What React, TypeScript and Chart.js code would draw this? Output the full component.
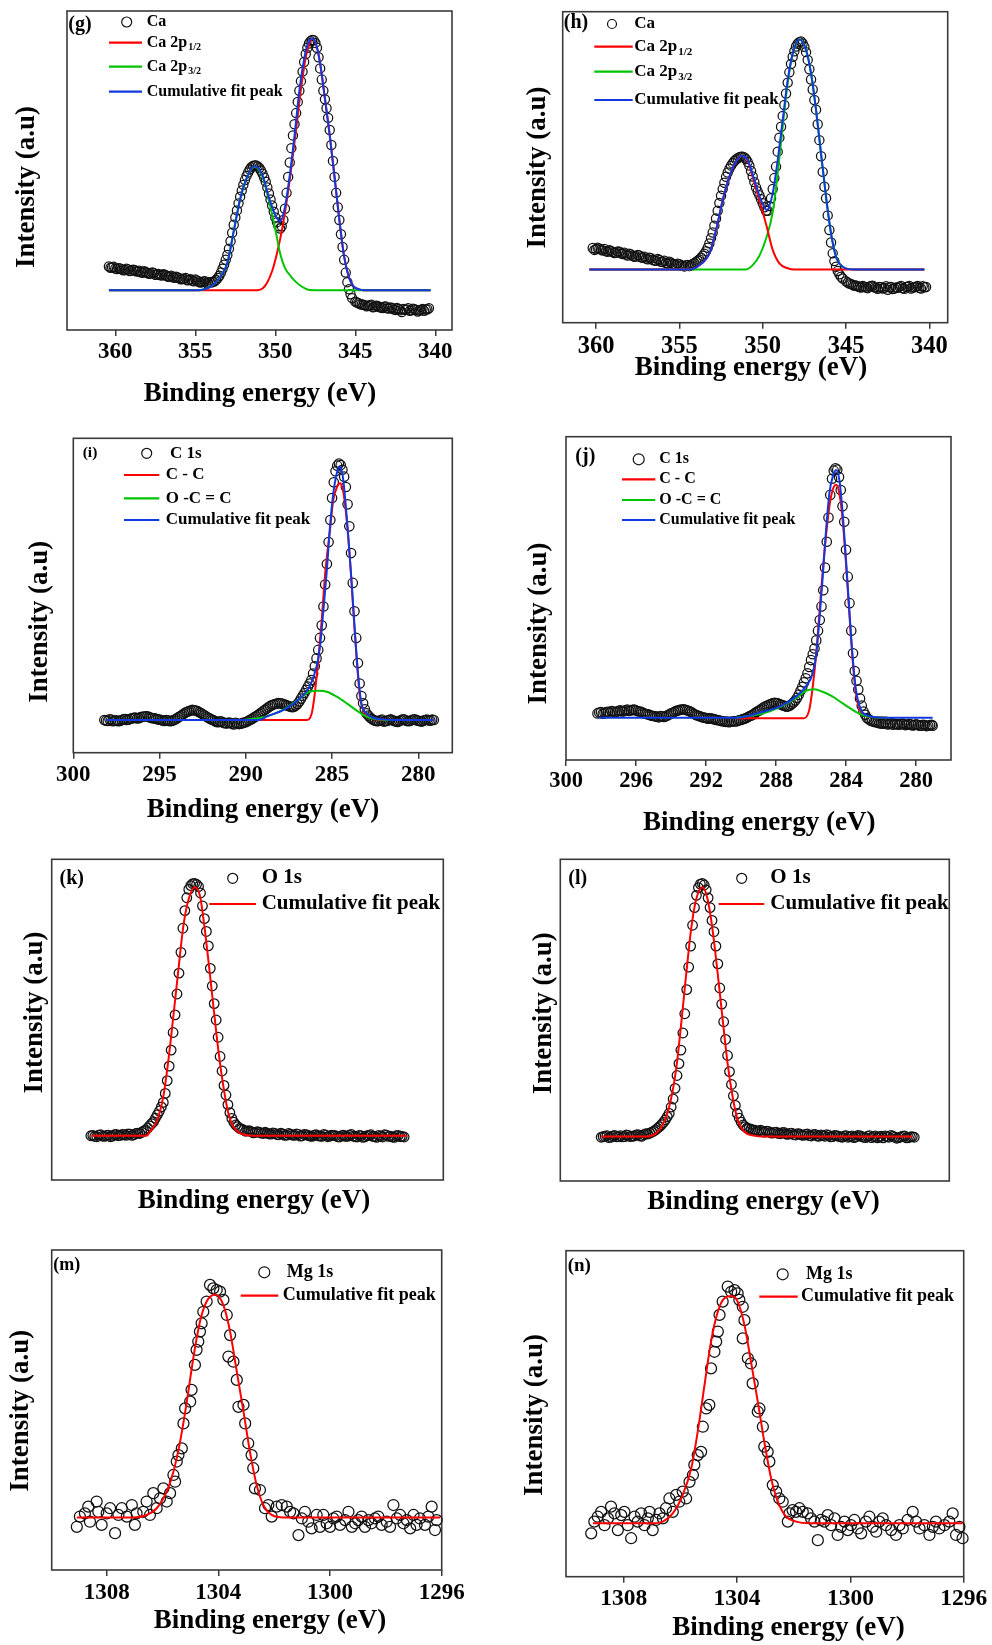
import React, { useEffect, useRef } from "react";
import { Chart, registerables } from "chart.js";
Chart.register(...registerables);

const FONT = "'Liberation Serif', 'Times New Roman', serif";
const RED = "#ff0000";
const GREEN = "#00c400";
const BLUE = "#1238e0";

type Pt = [number, number];

// ---------- tick labels ----------
const gTicks = [360, 355, 350, 345, 340];
const hTicks = [360, 355, 350, 345, 340];
const iTicks = [300, 295, 290, 285, 280];
const jTicks = [300, 296, 292, 288, 284, 280];
const mTicks = [1308, 1304, 1300, 1296];
const nTicks = [1308, 1304, 1300, 1296];

// ---------- (g) Ca ----------
const gData: Pt[] = [
  [360.4,19.9],[360.2,19.6],[360.0,19.3],[359.8,19.4],[359.6,19.0],[359.4,18.8],[359.2,19.0],[359.0,18.6],[358.8,18.8],[358.6,18.3],
  [358.4,18.1],[358.2,18.4],[358.0,17.9],[357.8,17.7],[357.6,17.9],[357.4,17.4],[357.2,17.2],[357.0,17.5],[356.8,17.0],[356.6,16.8],
  [356.4,16.5],[356.2,16.7],[356.0,16.2],[355.8,16.0],[355.6,16.3],[355.4,15.7],[355.2,15.5],[355.0,15.8],[354.8,15.2],[354.6,15.0],
  [354.4,15.3],[354.2,14.8],[354.0,14.9],[353.8,15.3],[353.6,16.3],
  [353.4,18.0],[353.3,19.2],[353.2,20.5],[353.1,22.0],[353.0,23.5],[352.9,25.5],[352.8,27.8],[352.7,30.5],[352.6,33.0],[352.5,35.3],
  [352.4,37.5],[352.3,39.7],[352.2,41.8],[352.1,43.7],[352.0,45.5],[351.9,47.0],[351.8,48.3],[351.7,49.4],[351.6,50.3],[351.5,51.0],
  [351.4,51.4],[351.3,51.6],[351.2,51.6],[351.1,51.3],[351.0,50.8],[350.9,50.0],[350.8,49.0],[350.7,47.8],[350.6,46.5],[350.5,44.7],
  [350.4,42.8],[350.3,40.9],[350.2,39.0],[350.1,37.1],[350.0,35.3],[349.9,33.8],[349.8,32.5],[349.7,31.8],[349.6,32.5],[349.5,34.5],
  [349.4,38.0],[349.3,43.0],[349.2,48.0],[349.1,52.5],[349.0,57.0],[348.9,61.0],[348.8,64.5],[348.7,68.0],[348.6,71.5],[348.5,75.0],
  [348.4,78.0],[348.3,81.0],[348.2,84.0],[348.1,86.5],[348.0,88.5],[347.9,89.8],[347.8,90.5],[347.7,90.9],[347.6,90.8],[347.5,90.0],
  [347.4,88.5],[347.3,85.5],[347.2,82.0],[347.1,78.5],[347.0,75.0],[346.9,72.3],[346.8,69.5],[346.7,66.5],[346.6,62.7],[346.5,58.0],
  [346.4,53.0],[346.3,48.0],[346.2,43.0],[346.1,38.5],[346.0,34.5],[345.9,30.0],[345.8,26.0],[345.7,22.0],[345.6,18.0],[345.5,15.0],
  [345.4,12.8],[345.3,11.2],[345.2,10.0],
  [345.0,8.9],[344.8,8.4],[344.6,8.0],[344.4,7.8],[344.2,7.6],[344.0,7.9],[343.8,7.3],[343.6,7.5],[343.4,7.0],[343.2,7.3],
  [343.0,6.8],[342.8,7.1],[342.6,6.5],[342.4,6.9],[342.2,6.2],[342.0,6.6],[341.8,6.4],[341.6,6.0],[341.4,6.7],[341.2,6.3],
  [341.0,6.1],[340.8,6.6],[340.6,6.4],[340.4,6.8],
  [360.3,19.5],[360.1,19.8],[359.9,19.1],[359.7,19.3],[359.5,18.7],[359.3,19.2],[359.1,18.5],[358.9,18.9],[358.7,18.4],[358.5,18.6],
  [358.3,17.9],[358.1,18.2],[357.9,17.6],[357.7,18.0],[357.5,17.3],[357.3,17.6],[357.1,17.1],[356.9,17.3],[356.7,16.7],[356.5,17.0],
  [356.3,16.4],[356.1,16.5],[355.9,15.9],[355.7,16.1],[355.5,15.6],[355.3,15.9],[355.1,15.3],[354.9,15.5],[354.7,14.9],[354.5,15.2],
  [354.3,14.7],[354.1,15.0],[353.9,15.1],[353.7,15.7],[353.5,17.0],
  [344.9,8.6],[344.7,8.1],[344.5,7.9],[344.3,7.4],[344.1,7.7],[343.9,7.1],[343.7,7.6],[343.5,7.2],[343.3,6.9],[343.1,7.4],
  [342.9,6.7],[342.7,6.9],[342.5,6.3],[342.3,6.6],[342.1,5.6],[341.9,6.3],[341.7,6.8],[341.5,6.2],[341.3,6.5],[341.1,5.8],
  [340.9,6.3],[340.7,6.0],[340.5,6.5],
];
const gBlue: Pt[] = [
  [360.4,12.5],[354.8,12.5],[354.3,13.0],[353.85,14.3],[353.4,17],[353.0,21],[352.6,31],[352.2,41],[351.8,47.5],[351.3,51.3],
  [350.8,48.5],[350.4,41.5],[350.0,36],[349.7,34],[349.4,38.5],[349.1,48.5],[348.8,61],[348.5,75],[348.2,85],[347.95,90],
  [347.7,91.4],[347.45,89.5],[347.2,83.5],[346.9,72.5],[346.6,61],[346.3,48],[346.0,34.5],[345.7,23],[345.4,16.5],[345.1,13.6],
  [344.8,12.8],[344.5,12.5],[340.3,12.5],
];
const gGreen: Pt[] = [
  [360.4,12.5],[354.8,12.5],[354.3,13.0],[353.85,14.3],[353.4,17],[353.0,21],[352.6,31],[352.2,41],[351.8,47.5],[351.3,51.2],
  [350.8,48],[350.4,40.5],[350.0,31.5],[349.7,24],[349.4,19.5],[349.06,17.0],[348.7,15],[348.4,13.8],[348.0,12.7],[347.6,12.5],
  [340.3,12.5],
];
const gRed: Pt[] = [
  [360.4,12.5],[351.1,12.5],[350.8,13.0],[350.5,15],[350.2,18.5],[349.9,24],[349.6,31],[349.3,40],[349.0,51],[348.7,63],
  [348.4,75.5],[348.1,85.5],[347.9,89.5],[347.7,91.3],[347.45,89.5],[347.2,83.5],[346.9,72.5],[346.6,61],[346.3,48],[346.0,34.5],
  [345.7,23],[345.4,16.5],[345.1,13.6],[344.8,12.8],[344.5,12.5],[340.3,12.5],
];

// ---------- (h) Ca ----------
const hData: Pt[] = [
  [360.2,24.0],[360.0,23.6],[359.8,23.8],[359.6,23.2],[359.4,23.0],[359.2,23.3],[359.0,22.7],[358.8,22.5],[358.6,22.8],[358.4,22.1],
  [358.2,21.9],[358.0,22.2],[357.8,21.5],[357.6,21.3],[357.4,21.6],[357.2,20.9],[357.0,20.6],[356.8,20.9],[356.6,20.2],[356.4,19.9],
  [356.2,20.2],[356.0,19.5],[355.8,19.2],[355.6,19.6],[355.4,18.9],[355.2,18.6],[355.0,18.8],[354.8,18.3],[354.6,18.5],[354.4,18.2],
  [354.2,18.9],[354.0,19.5],[353.8,20.3],[353.6,21.5],
  [353.4,23.0],[353.3,24.1],[353.2,25.5],[353.1,27.2],[353.0,29.0],[352.9,31.2],[352.8,33.5],[352.7,36.0],[352.6,38.5],[352.5,40.8],
  [352.4,43.0],[352.3,45.0],[352.2,46.9],[352.1,48.3],[352.0,49.5],[351.9,50.5],[351.8,51.3],[351.7,52.0],[351.6,52.5],[351.5,52.9],
  [351.4,53.2],[351.3,53.4],[351.2,53.4],[351.1,53.1],[351.0,52.6],[350.9,51.7],[350.8,50.5],[350.7,48.8],[350.6,47.0],[350.5,45.2],
  [350.4,43.5],[350.3,42.2],[350.2,41.0],[350.1,39.7],[350.0,38.4],[349.9,37.1],[349.8,36.0],[349.7,36.0],[349.6,37.5],[349.5,40.0],
  [349.4,43.0],[349.3,46.5],[349.2,50.2],[349.1,55.0],[349.0,59.5],[348.9,63.0],[348.8,66.5],[348.7,70.0],[348.6,73.7],[348.5,77.2],
  [348.4,80.5],[348.3,83.2],[348.2,85.5],[348.1,87.3],[348.0,88.8],[347.9,89.7],[347.8,90.2],[347.7,90.4],[347.6,89.8],[347.5,88.7],
  [347.4,87.0],[347.3,84.5],[347.2,81.5],[347.1,78.2],[347.0,75.0],[346.9,71.6],[346.8,68.5],[346.7,63.8],[346.6,58.7],[346.5,53.5],
  [346.4,48.5],[346.3,43.7],[346.2,40.0],[346.1,34.5],[346.0,29.8],[345.9,25.8],[345.8,22.3],[345.7,19.8],[345.6,18.0],[345.5,16.6],
  [345.4,15.6],[345.3,14.8],[345.2,14.2],
  [345.0,13.3],[344.8,12.6],[344.6,12.2],[344.4,12.0],[344.2,11.5],[344.0,11.8],[343.8,11.3],[343.6,11.6],[343.4,11.9],[343.2,11.2],
  [343.0,11.5],[342.8,11.0],[342.6,11.7],[342.4,11.4],[342.2,10.8],[342.0,11.3],[341.8,11.6],[341.6,11.1],[341.4,11.5],[341.2,11.8],
  [341.0,11.3],[340.8,11.6],[340.6,11.2],[340.4,11.7],[340.2,11.5],
  [360.1,23.4],[359.9,24.1],[359.7,23.5],[359.5,23.7],[359.3,22.8],[359.1,23.1],[358.9,22.4],[358.7,22.9],[358.5,22.3],[358.3,22.5],
  [358.1,21.6],[357.9,21.9],[357.7,21.2],[357.5,21.8],[357.3,21.0],[357.1,21.2],[356.9,20.4],[356.7,20.7],[356.5,20.0],[356.3,20.5],
  [356.1,19.6],[355.9,19.9],[355.7,19.0],[355.5,19.3],[355.3,18.7],[355.1,19.0],[354.9,18.4],[354.7,18.1],[354.5,18.6],[354.3,18.4],
  [354.1,19.1],[353.9,19.9],[353.7,20.9],[353.5,22.2],
  [344.9,12.9],[344.7,12.4],[344.5,11.9],[344.3,11.7],[344.1,11.3],[343.9,11.6],[343.7,11.1],[343.5,11.8],[343.3,11.4],[343.1,10.9],
  [342.9,11.4],[342.7,11.2],[342.5,10.6],[342.3,11.5],[342.1,11.0],[341.9,11.2],[341.7,11.8],[341.5,10.9],[341.3,11.6],[341.1,11.0],
  [340.9,11.4],[340.7,11.8],[340.5,11.0],[340.3,11.4],
];
const hBlue: Pt[] = [
  [360.4,17.1],[354.5,17.1],[353.8,18.5],[353.2,22.3],[352.8,29.8],[352.4,39.4],[352.0,46.9],[351.6,51.8],[351.24,53.6],[350.9,52.3],
  [350.5,45.9],[350.1,39.4],[349.76,36.2],[349.4,41.6],[349.1,52.3],[348.8,65.2],[348.5,78],[348.2,86.6],[347.8,91.1],[347.4,87.7],
  [347.1,80.2],[346.8,68.4],[346.5,54.4],[346.2,40.5],[345.9,28.7],[345.6,21.2],[345.2,18],[344.5,17.1],[340.3,17.1],
];
const hGreen: Pt[] = [
  [360.4,17.1],[351.0,17.1],[350.6,18.5],[350.2,21.5],[349.8,27],[349.4,35.5],[349.1,48],[348.8,63],[348.5,77],[348.2,86.4],
  [347.8,91.1],[347.4,87.7],[347.1,80.2],[346.8,68.4],[346.5,54.4],[346.2,40.5],[345.9,28.7],[345.6,21.2],[345.2,18],[344.5,17.1],
  [340.3,17.1],
];
const hRed: Pt[] = [
  [360.4,17.1],[354.5,17.1],[353.8,18.5],[353.2,22.3],[352.8,29.8],[352.4,39.4],[352.0,46.9],[351.6,51.8],[351.24,53.6],[350.9,52],
  [350.5,45],[350.2,39.4],[349.76,30.9],[349.4,23.4],[349.0,19.1],[348.5,17.5],[348.1,17.1],[340.3,17.1],
];

// ---------- (i) C 1s ----------
const iData: Pt[] = [
  [298.2,10.4],[298.0,10.1],[297.8,10.5],[297.6,10.2],[297.4,10.0],[297.2,10.4],[297.0,10.7],[296.8,10.5],[296.6,10.9],[296.4,11.2],
  [296.2,11.0],[296.0,11.4],[295.8,11.6],[295.6,11.3],[295.4,11.0],[295.2,10.8],[295.0,10.5],[294.8,10.2],[294.6,10.4],[294.4,10.0],
  [294.2,10.3],[294.0,10.9],[293.8,11.6],[293.6,12.4],[293.4,13.0],[293.2,13.4],[293.0,13.5],[292.8,13.2],[292.6,12.6],[292.4,11.9],
  [292.2,11.2],[292.0,10.6],[291.8,10.1],[291.6,9.7],[291.4,9.9],[291.2,9.4],[291.0,9.6],[290.8,9.2],[290.6,9.5],[290.4,9.1],
  [290.2,9.4],[290.0,9.7],[289.8,10.3],[289.6,10.9],[289.4,11.6],[289.2,12.4],[289.0,13.2],[288.8,14.0],[288.6,14.8],[288.4,15.3],
  [288.2,15.6],[288.0,15.7],[287.8,15.4],[287.6,15.0],[287.4,14.6],[287.2,14.6],[287.0,15.5],[286.8,17.2],[286.6,19.0],[286.4,21.0],
  [286.2,23.1],[286.1,25.2],[286.0,27.5],[285.9,30.0],[285.8,32.7],[285.7,36.5],[285.6,40.5],[285.5,46.5],[285.4,53.5],[285.3,60.0],
  [285.2,67.0],[285.1,74.0],[285.0,81.0],[284.9,86.0],[284.8,89.5],[284.7,91.3],[284.6,92.0],[284.5,91.5],[284.4,90.0],[284.3,87.8],
  [284.2,84.5],[284.1,79.0],[284.0,72.0],[283.9,63.5],[283.8,54.0],[283.7,45.0],[283.6,36.5],[283.5,28.5],[283.4,22.0],[283.3,18.0],
  [283.2,15.7],[283.1,13.8],[283.0,12.5],[282.8,11.2],[282.6,10.4],[282.4,10.0],[282.2,10.3],[282.0,9.9],[281.8,10.2],[281.6,10.6],
  [281.4,10.1],[281.2,9.8],[281.0,10.3],[280.8,10.5],[280.6,10.0],[280.4,10.3],[280.2,10.6],[280.0,10.2],[279.8,9.9],[279.6,10.4],
  [279.4,10.3],[279.2,10.5],
  [298.1,10.2],[297.9,10.6],[297.7,10.0],[297.5,10.3],[297.3,10.1],[297.1,10.6],[296.9,10.4],[296.7,10.8],[296.5,11.1],[296.3,10.9],
  [296.1,11.3],[295.9,11.5],[295.7,11.6],[295.5,11.1],[295.3,10.9],[295.1,10.6],[294.9,10.4],[294.7,10.1],[294.5,10.3],[294.3,10.1],
  [294.1,10.6],[293.9,11.3],[293.7,12.0],[293.5,12.8],[293.3,13.2],[293.1,13.6],[292.9,13.4],[292.7,12.9],[292.5,12.2],[292.3,11.5],
  [292.1,10.9],[291.9,10.4],[291.7,9.8],[291.5,10.0],[291.3,9.5],[291.1,9.3],[290.9,9.5],[290.7,9.0],[290.5,9.3],[290.3,9.2],
  [290.1,9.6],[289.9,10.0],[289.7,10.6],[289.5,11.3],[289.3,12.0],[289.1,12.8],[288.9,13.6],[288.7,14.4],[288.5,15.1],[288.3,15.5],
  [288.1,15.8],[287.9,15.6],[287.7,15.2],[287.5,14.8],[287.3,14.5],[287.1,15.0],[286.9,16.3],[286.7,18.1],[286.5,20.0],[286.3,22.0],
  [282.9,11.8],[282.7,10.8],[282.5,10.2],[282.3,10.1],[282.1,10.5],[281.9,10.0],[281.7,10.4],[281.5,10.3],[281.3,9.9],[281.1,10.1],
  [280.9,10.6],[280.7,10.2],[280.5,10.1],[280.3,10.5],[280.1,10.3],[279.9,10.0],[279.7,10.2],[279.5,10.5],[279.3,10.2],[279.1,10.4],
];
const iBlue: Pt[] = [
  [298.1,10.4],[289.2,10.4],[288.8,11.5],[287.8,13.6],[286.86,17.3],[286.3,21],[285.9,27.4],[285.7,33.7],[285.5,45.4],[285.3,58.1],
  [285.12,71.9],[284.93,82.5],[284.73,88.8],[284.58,91],[284.39,88.3],[284.25,81.4],[284.06,68.7],[283.86,53.9],[283.67,38],[283.48,24.2],
  [283.3,15.7],[283.0,12.5],[282.6,11.1],[282.0,10.6],[281.5,10.4],[279.1,10.4],
];
const iRed: Pt[] = [
  [290.1,10.4],[286.5,10.4],[286.18,12.5],[286.0,18.9],[285.8,29.5],[285.6,42.2],[285.4,57],[285.12,70.8],[284.93,80.4],[284.7,84.6],
  [284.54,85.7],[284.35,83],[284.15,74],[283.96,61.3],[283.77,45.4],[283.57,29.5],[283.38,17.8],[283.1,12.5],[282.6,10.9],[282.2,10.4],
  [281.6,10.4],
];
const iGreen: Pt[] = [
  [290.1,10.4],[288.8,11.5],[287.8,13.8],[286.86,17.3],[286.3,19.4],[285.8,19.7],[285.3,19.4],[284.73,17.8],[284.15,15.7],[283.57,13.4],
  [283.0,11.5],[282.4,10.6],[281.6,10.4],
];

// ---------- (j) C 1s ----------
const jData: Pt[] = [
  [298.2,14.4],[298.0,14.8],[297.8,14.5],[297.6,14.9],[297.4,15.1],[297.2,14.8],[297.0,15.2],[296.8,15.0],[296.6,15.4],[296.4,15.2],
  [296.2,15.5],[296.0,15.3],[295.8,15.0],[295.6,14.6],[295.4,14.2],[295.2,13.9],[295.0,13.6],[294.8,13.4],[294.6,13.6],[294.4,13.3],
  [294.2,13.8],[294.0,14.4],[293.8,14.9],[293.6,15.3],[293.4,15.6],[293.2,15.6],[293.0,15.2],[292.8,14.7],[292.6,14.0],[292.4,13.6],
  [292.2,13.2],[292.0,13.0],[291.8,12.9],[291.6,12.7],[291.4,12.4],[291.2,12.2],[291.0,12.0],[290.8,11.9],[290.6,11.8],[290.4,12.0],
  [290.2,12.1],[290.0,12.4],[289.8,12.8],[289.6,13.3],[289.4,13.8],[289.2,14.5],[289.0,15.2],[288.8,15.9],[288.6,16.6],[288.4,17.1],
  [288.2,17.5],[288.0,17.6],[287.8,17.3],[287.6,16.9],[287.4,16.5],[287.2,16.9],[287.0,17.8],[286.8,19.2],[286.6,21.4],[286.4,24.0],
  [286.2,26.8],[286.1,28.8],[286.0,30.9],[285.9,32.7],[285.8,34.5],[285.7,37.0],[285.6,40.0],[285.5,43.3],[285.4,47.5],[285.3,52.5],
  [285.2,59.5],[285.1,67.5],[285.0,75.0],[284.9,82.0],[284.8,87.0],[284.7,89.5],[284.6,90.2],[284.5,89.8],[284.4,87.5],[284.3,83.5],
  [284.2,78.5],[284.1,73.7],[284.0,65.0],[283.9,56.7],[283.8,48.5],[283.7,40.0],[283.6,33.0],[283.5,27.5],[283.4,24.5],[283.3,21.8],
  [283.2,19.0],[283.1,16.8],[283.0,15.0],[282.8,13.0],[282.6,12.2],[282.4,11.8],[282.2,11.6],[282.0,11.3],[281.8,11.5],[281.6,11.0],
  [281.4,11.4],[281.2,11.2],[281.0,10.9],[280.8,11.3],[280.6,10.8],[280.4,11.1],[280.2,10.7],[280.0,11.0],[279.8,10.6],[279.6,10.9],
  [279.4,10.5],[279.2,10.8],[279.05,10.6],
  [298.1,14.7],[297.9,14.3],[297.7,14.8],[297.5,14.6],[297.3,15.0],[297.1,14.9],[296.9,15.4],[296.7,15.1],[296.5,15.6],[296.3,15.3],
  [296.1,15.6],[295.9,15.1],[295.7,14.9],[295.5,14.3],[295.3,14.1],[295.1,13.7],[294.9,13.5],[294.7,13.2],[294.5,13.5],[294.3,13.5],
  [294.1,14.1],[293.9,14.6],[293.7,15.2],[293.5,15.5],[293.3,15.7],[293.1,15.4],[292.9,15.0],[292.7,14.3],[292.5,13.8],[292.3,13.4],
  [292.1,13.1],[291.9,12.8],[291.7,12.8],[291.5,12.5],[291.3,12.3],[291.1,12.0],[290.9,11.8],[290.7,11.7],[290.5,11.9],[290.3,11.9],
  [290.1,12.3],[289.9,12.6],[289.7,13.0],[289.5,13.6],[289.3,14.1],[289.1,14.9],[288.9,15.5],[288.7,16.3],[288.5,16.8],[288.3,17.3],
  [288.1,17.7],[287.9,17.5],[287.7,17.1],[287.5,16.7],[287.3,16.6],[287.1,17.3],[286.9,18.4],[286.7,20.2],[286.5,22.6],[286.3,25.3],
  [282.9,14.0],[282.7,12.6],[282.5,12.0],[282.3,11.7],[282.1,11.4],[281.9,11.2],[281.7,11.3],[281.5,11.2],[281.3,10.9],[281.1,11.1],
  [280.9,11.0],[280.7,11.1],[280.5,10.9],[280.3,11.0],[280.1,10.8],[279.9,10.9],[279.7,10.6],[279.5,10.8],[279.3,10.6],[279.1,10.9],
];
const jBlue: Pt[] = [
  [298.1,13.1],[290.3,13.1],[288.76,14.9],[287.8,16.5],[286.86,19.6],[286.3,22.7],[285.9,26.8],[285.7,33],[285.52,43.3],[285.33,56.7],
  [285.14,71.1],[284.95,82.5],[284.76,87.6],[284.57,89.7],[284.38,86.6],[284.19,76.3],[284.0,61.9],[283.81,46.4],[283.62,32],[283.43,21.6],
  [283.14,15.5],[282.76,13.7],[282.29,13.2],[281.8,13.1],[279.05,13.1],
];
const jRed: Pt[] = [
  [290.3,12.9],[286.4,12.9],[286.1,15.5],[285.9,22.7],[285.7,33],[285.52,45.4],[285.24,63.9],[284.95,78.4],[284.76,83.5],[284.57,85.1],
  [284.38,82.5],[284.19,74.2],[284.0,60.8],[283.81,45.4],[283.62,30.9],[283.43,20.6],[283.14,14.9],[282.67,13.4],[281.62,13.1],
];
const jGreen: Pt[] = [
  [290.3,13.1],[288.76,14.4],[287.8,16.3],[286.86,19.1],[286.3,21.4],[285.8,21.9],[285.33,21.1],[284.76,19.6],[284.19,17.5],[283.62,15.5],
  [283.05,13.9],[282.48,13.2],[281.62,13.1],
];

// ---------- (k) O 1s ----------
const kData: Pt[] = [
  [538.0,13.8],[537.8,13.6],[537.6,14.0],[537.4,13.7],[537.2,13.9],[537.0,13.5],[536.8,14.1],[536.6,13.8],[536.4,14.2],[536.2,13.9],
  [536.0,14.3],[535.8,14.1],[535.6,14.6],[535.4,14.9],[535.3,15.3],[535.2,15.6],[535.1,16.2],[535.0,16.9],[534.9,17.6],[534.8,18.2],
  [534.7,19.3],[534.6,20.4],[534.5,21.5],[534.4,22.8],[534.3,24.2],[534.2,27.0],[534.1,31.0],[534.0,35.5],[533.9,40.5],[533.8,46.0],
  [533.7,51.5],[533.6,58.0],[533.5,64.5],[533.4,71.0],[533.3,78.5],[533.2,84.0],[533.1,88.0],[533.0,90.6],[532.9,91.8],[532.8,92.4],
  [532.7,92.5],[532.6,92.2],[532.5,91.5],[532.4,89.5],[532.3,85.5],[532.2,81.5],[532.1,77.5],[532.0,73.0],[531.9,66.0],[531.8,60.5],
  [531.7,55.0],[531.6,49.9],[531.5,44.5],[531.4,38.5],[531.3,34.0],[531.2,29.5],[531.1,26.5],[531.0,23.5],[530.9,21.0],[530.8,19.2],
  [530.7,18.0],[530.6,17.2],[530.5,16.6],[530.4,16.1],[530.2,15.6],[530.0,15.3],[529.8,15.0],[529.6,14.8],[529.4,14.9],[529.2,14.5],
  [529.0,14.6],[528.8,14.3],[528.6,14.5],[528.4,14.1],[528.2,14.4],[528.0,14.0],[527.8,14.3],[527.6,13.9],[527.4,14.2],[527.2,13.8],
  [527.0,14.1],[526.8,13.7],[526.6,14.0],[526.4,13.8],[526.2,13.6],[526.0,14.0],[525.8,13.7],[525.6,13.9],[525.4,13.5],[525.2,13.8],
  [525.0,13.6],[524.8,14.0],[524.6,13.7],[524.4,13.4],[524.2,13.8],[524.0,13.5],[523.8,13.9],[523.6,13.6],[523.4,13.3],[523.2,13.7],
  [523.0,14.1],[522.8,13.6],[522.6,13.4],[522.4,13.8],[522.2,13.5],[522.0,13.4],
  [537.9,13.9],[537.7,13.5],[537.5,14.1],[537.3,13.6],[537.1,14.0],[536.9,13.7],[536.7,14.2],[536.5,13.9],[536.3,14.1],[536.1,14.4],
  [535.9,13.9],[535.7,14.5],[535.5,14.5],
  [530.3,15.9],[530.1,15.2],[529.9,15.4],[529.7,14.7],[529.5,15.1],[529.3,14.6],[529.1,14.9],[528.9,14.4],[528.7,14.7],[528.5,14.2],
  [528.3,14.6],[528.1,13.9],[527.9,14.5],[527.7,14.0],[527.5,14.4],[527.3,13.7],[527.1,14.2],[526.9,13.9],[526.7,13.6],[526.5,14.1],
  [526.3,13.7],[526.1,14.2],[525.9,13.5],[525.7,14.0],[525.5,13.8],[525.3,13.4],[525.1,14.0],[524.9,13.6],[524.7,14.2],[524.5,13.5],
  [524.3,13.9],[524.1,13.3],[523.9,13.8],[523.7,14.1],[523.5,13.5],[523.3,13.9],[523.1,13.4],[522.9,14.0],[522.7,13.7],[522.5,13.3],
  [522.3,13.9],[522.1,13.6],
];
const kFit: Pt[] = [
  [537.96,13.8],[535.15,13.8],[534.98,15.1],[534.64,18.2],[534.3,26],[534.04,37.4],[533.79,50.9],[533.53,65.5],[533.28,79],[533.02,87.3],
  [532.68,91.3],[532.42,88.4],[532.22,80],[532.0,68.6],[531.74,54.1],[531.49,40.5],[531.23,29.1],[530.98,20.8],[530.72,16.6],[530.38,14.6],
  [529.7,13.8],[521.87,13.8],
];

// ---------- (l) O 1s ----------
const lData: Pt[] = [
  [537.9,13.6],[537.7,13.9],[537.5,13.5],[537.3,14.0],[537.1,13.7],[536.9,14.1],[536.7,13.8],[536.5,14.2],[536.3,13.9],[536.1,14.3],
  [535.9,14.0],[535.7,14.4],[535.5,14.6],[535.3,15.2],[535.2,15.5],[535.1,15.9],[535.0,16.4],[534.9,16.9],[534.8,17.5],[534.7,18.2],
  [534.6,19.0],[534.5,20.0],[534.4,21.0],[534.3,23.0],[534.2,25.5],[534.1,28.8],[534.0,32.8],[533.9,36.5],[533.8,40.7],[533.7,46.0],
  [533.6,52.0],[533.5,59.5],[533.4,66.5],[533.3,73.0],[533.2,79.5],[533.1,85.0],[533.0,88.8],[532.9,91.2],[532.8,92.3],[532.7,92.5],
  [532.6,92.0],[532.5,90.5],[532.4,88.0],[532.3,85.0],[532.2,81.0],[532.1,77.5],[532.0,73.0],[531.9,67.5],[531.8,60.0],[531.7,55.0],
  [531.6,49.5],[531.5,44.0],[531.4,39.0],[531.3,34.0],[531.2,30.0],[531.1,26.5],[531.0,23.5],[530.9,21.0],[530.8,19.5],[530.7,18.3],
  [530.6,17.4],[530.5,16.9],[530.4,16.5],[530.2,16.1],[530.0,15.8],[529.8,15.6],[529.6,15.3],[529.4,15.5],[529.2,15.0],[529.0,15.1],
  [528.8,14.8],[528.6,15.0],[528.4,14.6],[528.2,14.8],[528.0,14.4],[527.8,14.7],[527.6,14.3],[527.4,14.5],[527.2,14.1],[527.0,14.4],
  [526.8,14.0],[526.6,14.3],[526.4,13.9],[526.2,14.2],[526.0,13.8],[525.8,14.1],[525.6,13.7],[525.4,14.0],[525.2,13.6],[525.0,14.0],
  [524.8,13.7],[524.6,14.1],[524.4,13.6],[524.2,13.9],[524.0,13.5],[523.8,14.0],[523.6,13.7],[523.4,13.4],[523.2,13.8],[523.0,14.2],
  [522.8,13.6],[522.6,13.5],[522.4,13.9],[522.2,13.4],[522.0,13.7],[521.8,13.6],
  [537.8,13.8],[537.6,14.1],[537.4,13.6],[537.2,14.2],[537.0,13.8],[536.8,13.7],[536.6,14.3],[536.4,13.8],[536.2,14.0],[536.0,14.4],
  [535.8,13.9],[535.6,14.7],[535.4,14.9],
  [530.3,16.3],[530.1,15.9],[529.9,15.5],[529.7,15.8],[529.5,15.2],[529.3,15.4],[529.1,14.9],[528.9,15.2],[528.7,14.7],[528.5,15.1],
  [528.3,14.5],[528.1,14.9],[527.9,14.3],[527.7,14.6],[527.5,14.2],[527.3,14.6],[527.1,14.0],[526.9,14.5],[526.7,13.9],[526.5,14.1],
  [526.3,14.4],[526.1,13.7],[525.9,14.2],[525.7,13.9],[525.5,13.6],[525.3,14.1],[525.1,13.8],[524.9,13.5],[524.7,14.2],[524.5,13.8],
  [524.3,13.5],[524.1,14.1],[523.9,13.8],[523.7,13.4],[523.5,13.9],[523.3,14.0],[523.1,13.6],[522.9,13.9],[522.7,13.3],[522.5,13.7],
  [522.3,14.0],[522.1,13.5],[521.9,13.8],
];
const lFit: Pt[] = [
  [537.9,13.8],[535.6,13.8],[535.08,14.8],[534.74,17.4],[534.4,23.1],[534.05,34.5],[533.8,48],[533.54,63.5],[533.28,78],[533.02,87.4],
  [532.68,91.3],[532.42,87.4],[532.17,78],[531.91,64.6],[531.65,50.1],[531.4,36.6],[531.14,26.2],[530.88,19],[530.54,15.3],[530.03,14.1],
  [529.6,13.8],[521.9,13.8],
];

// ---------- (m) Mg 1s ----------
const mData: Pt[] = [
  [1309.07,13.5],[1308.96,16.7],[1308.78,17.7],[1308.66,19.8],[1308.6,15.1],[1308.36,21.4],[1308.3,18.2],[1308.18,14.1],[1308.0,17.7],[1307.88,19.3],
  [1307.7,11.5],[1307.58,17.2],[1307.46,19.3],[1307.28,16.7],[1307.1,20.3],[1306.99,14.1],[1306.93,17.7],[1306.69,18.2],[1306.57,21.4],[1306.45,17.2],
  [1306.33,24.0],[1306.21,19.3],[1306.09,22.4],[1305.97,25.5],[1305.85,21.4],[1305.73,24.0],[1305.61,29.7],[1305.55,27.6],[1305.49,33.9],[1305.43,35.9],
  [1305.31,38.0],[1305.25,45.8],[1305.19,50.5],[1305.01,52.6],[1304.96,56.3],[1304.84,64.1],[1304.78,68.8],[1304.72,71.4],[1304.66,74.5],[1304.6,77.1],
  [1304.54,80.7],[1304.42,83.9],[1304.3,89.1],[1304.18,88.0],[1304.06,87.5],[1303.94,87.0],[1303.82,84.4],[1303.7,79.7],[1303.58,73.4],[1303.64,66.7],
  [1303.46,65.1],[1303.34,59.4],[1303.28,51.0],[1303.1,51.6],[1303.04,45.8],[1302.93,39.6],[1302.81,35.9],[1302.75,31.8],[1302.69,25.5],[1302.51,25.0],
  [1302.33,19.3],[1302.21,20.3],[1302.09,16.7],[1301.91,19.8],[1301.73,20.3],[1301.55,19.8],[1301.43,18.2],[1301.31,17.7],[1301.13,10.9],[1301.01,16.1],
  [1300.9,18.2],[1300.78,15.1],[1300.66,13.0],[1300.48,17.2],[1300.36,13.5],[1300.24,17.2],[1300.12,14.6],[1300.0,13.5],[1299.88,16.1],[1299.76,16.7],
  [1299.64,14.1],[1299.46,15.6],[1299.34,18.2],[1299.22,13.5],[1299.1,14.6],[1298.99,15.6],[1298.87,16.7],[1298.75,13.5],[1298.63,15.6],[1298.51,14.6],
  [1298.39,16.1],[1298.27,16.7],[1298.15,14.1],[1297.97,15.1],[1297.85,13.5],[1297.73,20.3],[1297.61,16.1],[1297.49,17.2],[1297.37,14.6],[1297.25,15.6],
  [1297.13,13.0],[1297.01,17.2],[1296.9,14.1],[1296.78,16.1],[1296.6,14.1],[1296.48,16.7],[1296.36,19.8],[1296.24,12.5],[1296.18,15.6],
];
const mFit: Pt[] = [
  [1309.07,16.4],[1307.04,16.4],[1306.57,17.2],[1306.21,19.3],[1305.85,24.5],[1305.61,30.7],[1305.37,40.1],[1305.13,52.6],[1304.9,66.1],[1304.66,77.6],
  [1304.42,83.9],[1304.12,86.1],[1303.82,82.8],[1303.58,74.5],[1303.34,62],[1303.1,49.5],[1302.87,37],[1302.63,26.6],[1302.39,20.3],[1302.09,17.2],
  [1301.67,16.4],[1296.06,16.4],
];

// ---------- (n) Mg 1s ----------
const nData: Pt[] = [
  [1309.15,13.3],[1309.04,16.9],[1308.92,18.4],[1308.8,19.9],[1308.68,15.8],[1308.56,17.9],[1308.45,21.5],[1308.33,19.4],[1308.21,14.3],[1308.09,18.9],
  [1307.98,19.9],[1307.86,15.8],[1307.74,11.8],[1307.62,18.4],[1307.51,16.9],[1307.39,19.4],[1307.27,15.8],[1307.15,17.9],[1307.09,19.9],[1306.98,14.3],
  [1306.86,17.4],[1306.74,19.4],[1306.62,17.9],[1306.51,21.0],[1306.39,24.0],[1306.27,19.9],[1306.15,25.1],[1306.04,23.0],[1305.92,26.1],[1305.8,24.0],
  [1305.68,29.1],[1305.56,31.2],[1305.51,34.3],[1305.39,37.3],[1305.27,38.3],[1305.21,46.0],[1305.09,51.6],[1304.98,52.7],[1304.92,63.9],[1304.8,69.0],
  [1304.74,72.1],[1304.68,75.2],[1304.62,80.3],[1304.51,84.4],[1304.33,89.0],[1304.21,87.4],[1304.09,87.9],[1303.98,86.9],[1303.92,84.9],[1303.8,82.8],
  [1303.74,78.7],[1303.8,73.1],[1303.62,67.0],[1303.51,65.4],[1303.45,59.3],[1303.27,50.6],[1303.21,51.6],[1303.09,46.0],[1303.04,39.9],[1302.92,38.3],
  [1302.86,35.3],[1302.74,28.1],[1302.62,26.1],[1302.51,24.0],[1302.39,23.0],[1302.21,16.9],[1302.15,19.4],[1302.04,20.4],[1301.92,19.9],[1301.8,21.0],
  [1301.68,19.9],[1301.51,19.4],[1301.39,17.9],[1301.27,16.9],[1301.15,11.2],[1301.04,17.4],[1300.92,16.9],[1300.8,18.9],[1300.68,15.8],[1300.56,17.9],
  [1300.45,12.8],[1300.33,15.3],[1300.21,16.9],[1300.09,14.3],[1299.98,15.8],[1299.86,17.4],[1299.74,14.8],[1299.62,13.3],[1299.45,16.9],[1299.33,18.4],
  [1299.21,15.3],[1299.09,13.8],[1298.98,16.9],[1298.86,17.9],[1298.74,15.8],[1298.56,14.3],[1298.39,12.8],[1298.27,15.8],[1298.15,14.8],[1297.98,17.4],
  [1297.8,19.9],[1297.68,16.9],[1297.56,14.8],[1297.39,15.8],[1297.21,12.8],[1297.09,15.3],[1296.98,16.9],[1296.86,14.8],[1296.68,15.8],[1296.51,16.9],
  [1296.39,19.4],[1296.27,12.8],[1296.15,15.3],[1296.04,11.8],
];
const nFit: Pt[] = [
  [1309.09,16.4],[1306.98,16.4],[1306.62,16.9],[1306.27,19.4],[1305.92,25.1],[1305.62,33.2],[1305.39,44.5],[1305.15,58.8],[1304.92,72.1],[1304.68,81.3],
  [1304.45,85.4],[1304.19,86.1],[1303.98,84.4],[1303.74,77.2],[1303.51,66],[1303.27,53.7],[1303.04,41.4],[1302.8,30.2],[1302.56,23],[1302.27,18.4],
  [1301.92,16.9],[1301.45,16.4],[1296.04,16.4],
];

// ---------- panel layout ----------
type LegendLine = { color: string; x1: number; x2: number; y: number; text: string; sub?: string; tx: number };
type Panel = {
  id: string;
  box: [number, number, number, number];
  area: [number, number, number, number];
  xMin: number; xMax: number;
  ticks: number[] | null; tickSize: number; tickPad: number;
  data: Pt[]; r: number;
  fits: { pts: Pt[]; color: string }[];
  label: { text: string; x: number; y: number; size: number };
  xTitle: [number, number]; yTitle: [number, number];
  legend: { size: number; cr: number; circle: [number, number]; first: { text: string; x: number; y: number }; lines: LegendLine[] };
};

const X_TITLE = "Binding energy (eV)";
const Y_TITLE = "Intensity (a.u)";

const panels: Panel[] = [
  {
    id: "g", box: [0, 0, 496, 410], area: [67, 11, 452, 330], xMin: 338.96, xMax: 363.02,
    ticks: gTicks, tickSize: 23, tickPad: 2, data: gData, r: 4.6,
    fits: [{ pts: gBlue, color: BLUE }, { pts: gGreen, color: GREEN }, { pts: gRed, color: RED }],
    label: { text: "(g)", x: 80, y: 25, size: 20 }, xTitle: [260, 394], yTitle: [27.5, 187],
    legend: { size: 16, cr: 5, circle: [126.7, 22], first: { text: "Ca", x: 146.7, y: 21.5 }, lines: [
      { color: RED, x1: 109, x2: 142, y: 42.7, text: "Ca 2p", sub: "1/2", tx: 146.7 },
      { color: GREEN, x1: 109, x2: 142, y: 66.7, text: "Ca 2p", sub: "3/2", tx: 146.7 },
      { color: BLUE, x1: 109, x2: 142, y: 91.7, text: "Cumulative fit peak", tx: 146.7 },
    ] },
  },
  {
    id: "h", box: [496, 0, 496, 410], area: [562.7, 11.7, 947.7, 322.7], xMin: 338.9, xMax: 362,
    ticks: hTicks, tickSize: 24.5, tickPad: 3, data: hData, r: 4.6,
    fits: [{ pts: hBlue, color: BLUE }, { pts: hRed, color: RED }, { pts: hGreen, color: GREEN }],
    label: { text: "(h)", x: 576, y: 23.3, size: 20 }, xTitle: [751, 368], yTitle: [538.5, 167.5],
    legend: { size: 17, cr: 4.5, circle: [612, 24], first: { text: "Ca", x: 634.3, y: 23.5 }, lines: [
      { color: RED, x1: 594.3, x2: 632.7, y: 46.7, text: "Ca 2p", sub: "1/2", tx: 634.3 },
      { color: GREEN, x1: 594.3, x2: 632.7, y: 71.7, text: "Ca 2p", sub: "3/2", tx: 634.3 },
      { color: BLUE, x1: 594.3, x2: 632.7, y: 100, text: "Cumulative fit peak", tx: 634.3 },
    ] },
  },
  {
    id: "i", box: [0, 410, 496, 430], area: [73.3, 438.3, 452.3, 752.7], xMin: 278.03, xMax: 300,
    ticks: iTicks, tickSize: 23, tickPad: 2.5, data: iData, r: 4.7,
    fits: [{ pts: iBlue, color: BLUE }, { pts: iGreen, color: GREEN }, { pts: iRed, color: RED }],
    label: { text: "(i)", x: 90, y: 453.3, size: 15.5 }, xTitle: [263, 810], yTitle: [40, 621.7],
    legend: { size: 17, cr: 5, circle: [146.7, 453.3], first: { text: "C 1s", x: 170, y: 453.3 }, lines: [
      { color: RED, x1: 124, x2: 159.3, y: 475, text: "C - C", tx: 165.7 },
      { color: GREEN, x1: 124, x2: 159.3, y: 498.3, text: "O -C = C", tx: 165.7 },
      { color: BLUE, x1: 124, x2: 159.3, y: 520, text: "Cumulative fit peak", tx: 165.7 },
    ] },
  },
  {
    id: "j", box: [496, 410, 496, 430], area: [566, 436.7, 951, 760], xMin: 278, xMax: 300,
    ticks: jTicks, tickSize: 22.5, tickPad: 2, data: jData, r: 4.7,
    fits: [{ pts: jBlue, color: BLUE }, { pts: jGreen, color: GREEN }, { pts: jRed, color: RED }],
    label: { text: "(j)", x: 585.3, y: 457.3, size: 20 }, xTitle: [759.3, 823.5], yTitle: [539, 623.5],
    legend: { size: 16, cr: 5.5, circle: [638.7, 459.3], first: { text: "C 1s", x: 659.3, y: 459.3 }, lines: [
      { color: RED, x1: 622, x2: 655.3, y: 479.3, text: "C - C", tx: 659.3 },
      { color: GREEN, x1: 622, x2: 655.3, y: 500, text: "O -C = C", tx: 659.3 },
      { color: BLUE, x1: 622, x2: 655.3, y: 520, text: "Cumulative fit peak", tx: 659.3 },
    ] },
  },
  {
    id: "k", box: [0, 840, 496, 390], area: [51.7, 859.3, 443.3, 1180], xMin: 520, xMax: 540,
    ticks: null, tickSize: 23, tickPad: 2, data: kData, r: 4.8,
    fits: [{ pts: kFit, color: RED }],
    label: { text: "(k)", x: 71.7, y: 879.3, size: 20 }, xTitle: [254, 1200.8], yTitle: [35, 1012.5],
    legend: { size: 21, cr: 5, circle: [232.7, 878.3], first: { text: "O 1s", x: 261.7, y: 878 }, lines: [
      { color: RED, x1: 209.3, x2: 256, y: 904, text: "Cumulative fit peak", tx: 261.7 },
    ] },
  },
  {
    id: "l", box: [496, 840, 496, 390], area: [560.3, 859.3, 949.3, 1181], xMin: 520, xMax: 540,
    ticks: null, tickSize: 23, tickPad: 2, data: lData, r: 4.8,
    fits: [{ pts: lFit, color: RED }],
    label: { text: "(l)", x: 577.7, y: 879.3, size: 20 }, xTitle: [763.5, 1202.5], yTitle: [544, 1013.3],
    legend: { size: 21, cr: 5, circle: [741.7, 878.3], first: { text: "O 1s", x: 770.3, y: 878 }, lines: [
      { color: RED, x1: 718.7, x2: 764.3, y: 904, text: "Cumulative fit peak", tx: 770.3 },
    ] },
  },
  {
    id: "m", box: [0, 1230, 496, 415], area: [51.7, 1250, 441.7, 1570], xMin: 1296, xMax: 1309.97,
    ticks: mTicks, tickSize: 23, tickPad: 3.5, data: mData, r: 5.5,
    fits: [{ pts: mFit, color: RED }],
    label: { text: "(m)", x: 66.7, y: 1265, size: 18 }, xTitle: [270, 1621.5], yTitle: [20.8, 1410.8],
    legend: { size: 18, cr: 5.5, circle: [264.3, 1272.3], first: { text: "Mg 1s", x: 286.7, y: 1272.3 }, lines: [
      { color: RED, x1: 240.7, x2: 278.3, y: 1295.7, text: "Cumulative fit peak", tx: 282.7 },
    ] },
  },
  {
    id: "n", box: [496, 1230, 496, 415], area: [566, 1250.7, 963.7, 1576.7], xMin: 1296, xMax: 1310.04,
    ticks: nTicks, tickSize: 23.5, tickPad: 2, data: nData, r: 5.5,
    fits: [{ pts: nFit, color: RED }],
    label: { text: "(n)", x: 579.3, y: 1265.7, size: 19 }, xTitle: [788.5, 1628.3], yTitle: [535, 1415],
    legend: { size: 18, cr: 5.5, circle: [782.7, 1274.3], first: { text: "Mg 1s", x: 806, y: 1274.3 }, lines: [
      { color: RED, x1: 759.3, x2: 797.7, y: 1296.7, text: "Cumulative fit peak", tx: 801 },
    ] },
  },
];

// ---------- drawing plugin: frame, titles, legend, panel label ----------
const decorPlugin = {
  id: "decor",
  beforeDatasetsDraw(chart: any, _args: any, o: any) {
    const p: Panel = o.panel;
    if (!p) return;
    const { left, top, right, bottom } = chart.chartArea;
    const ctx = chart.ctx;
    ctx.save();
    ctx.strokeStyle = "#3a3a3a";
    ctx.lineWidth = 1.6;
    ctx.strokeRect(left, top, right - left, bottom - top);
    ctx.restore();
  },
  afterDraw(chart: any, _args: any, o: any) {
    const p: Panel = o.panel;
    if (!p) return;
    const ox = p.box[0], oy = p.box[1];
    const ctx = chart.ctx;
    ctx.save();
    ctx.fillStyle = "#000";
    ctx.textBaseline = "middle";
    ctx.textAlign = "center";
    ctx.font = `bold ${p.label.size}px ${FONT}`;
    ctx.fillText(p.label.text, p.label.x - ox, p.label.y - oy);
    ctx.font = `bold 27px ${FONT}`;
    ctx.fillText(X_TITLE, p.xTitle[0] - ox, p.xTitle[1] - oy);
    ctx.save();
    ctx.translate(p.yTitle[0] - ox, p.yTitle[1] - oy);
    ctx.rotate(-Math.PI / 2);
    ctx.fillText(Y_TITLE, 0, 0);
    ctx.restore();
    const lg = p.legend;
    ctx.textAlign = "left";
    ctx.strokeStyle = "#111";
    ctx.lineWidth = 1.2;
    ctx.beginPath();
    ctx.arc(lg.circle[0] - ox, lg.circle[1] - oy, lg.cr, 0, Math.PI * 2);
    ctx.stroke();
    ctx.font = `bold ${lg.size}px ${FONT}`;
    ctx.fillText(lg.first.text, lg.first.x - ox, lg.first.y - oy);
    for (const it of lg.lines) {
      ctx.strokeStyle = it.color;
      ctx.lineWidth = 2.2;
      ctx.beginPath();
      ctx.moveTo(it.x1 - ox, it.y - oy);
      ctx.lineTo(it.x2 - ox, it.y - oy);
      ctx.stroke();
      ctx.font = `bold ${lg.size}px ${FONT}`;
      ctx.fillText(it.text, it.tx - ox, it.y - oy);
      if (it.sub) {
        const w = ctx.measureText(it.text).width;
        ctx.font = `bold ${Math.round(lg.size * 0.62)}px ${FONT}`;
        ctx.fillText(it.sub, it.tx - ox + w + 1, it.y - oy + lg.size * 0.32);
      }
    }
    ctx.restore();
  },
};

function PanelChart({ p }: { p: Panel }) {
  const ref = useRef<HTMLCanvasElement | null>(null);
  useEffect(() => {
    if (!ref.current) return;
    const [cx, cy, cw, ch] = p.box;
    const [L, T, R, B] = p.area;
    const xh = cy + ch - B;
    const hasTicks = !!p.ticks;
    const datasets: any[] = p.fits.map((f) => ({
      data: f.pts.map(([x, y]) => ({ x, y })),
      showLine: true,
      borderColor: f.color,
      backgroundColor: f.color,
      borderWidth: 2,
      pointRadius: 0,
      pointHoverRadius: 0,
      fill: false,
      cubicInterpolationMode: "monotone",
    }));
    datasets.push({
      data: p.data.map(([x, y]) => ({ x, y })),
      showLine: false,
      pointStyle: "circle",
      pointRadius: p.r,
      pointHoverRadius: p.r,
      pointBorderWidth: 1.25,
      pointBorderColor: "#111",
      pointBackgroundColor: "rgba(0,0,0,0)",
      clip: false,
    });
    const chart = new Chart(ref.current, {
      type: "scatter",
      data: { datasets },
      plugins: [decorPlugin as any],
      options: {
        responsive: false,
        animation: false,
        devicePixelRatio: 1,
        events: [],
        layout: { padding: { left: L - cx, top: T - cy, right: cx + cw - R, bottom: 0 } },
        plugins: {
          legend: { display: false },
          tooltip: { enabled: false },
          decor: { panel: p },
        } as any,
        scales: {
          x: {
            type: "linear",
            min: p.xMin,
            max: p.xMax,
            reverse: true,
            display: true,
            afterBuildTicks: (s: any) => {
              s.ticks = (p.ticks || []).map((v) => ({ value: v }));
            },
            afterFit: (s: any) => {
              s.height = xh;
            },
            border: { display: false },
            grid: { display: hasTicks, drawOnChartArea: false, drawTicks: true, tickLength: 6, color: "#3a3a3a", lineWidth: 1.5 },
            ticks: {
              display: hasTicks,
              autoSkip: false,
              maxRotation: 0,
              padding: p.tickPad,
              color: "#000",
              font: { family: FONT, size: p.tickSize, weight: "bold" },
              callback: (v: any) => String(v),
            },
          },
          y: { type: "linear", min: 0, max: 100, display: false },
        },
      } as any,
    });
    return () => chart.destroy();
  }, [p]);
  const [cx, cy, cw, ch] = p.box;
  return (
    <canvas
      ref={ref}
      width={cw}
      height={ch}
      style={{ position: "absolute", left: cx, top: cy, width: cw, height: ch }}
    />
  );
}

export default function App() {
  return (
    <div style={{ position: "absolute", left: 0, top: 0, width: 992, height: 1645, background: "#fff" }}>
      {panels.map((p) => (
        <PanelChart key={p.id} p={p} />
      ))}
    </div>
  );
}
